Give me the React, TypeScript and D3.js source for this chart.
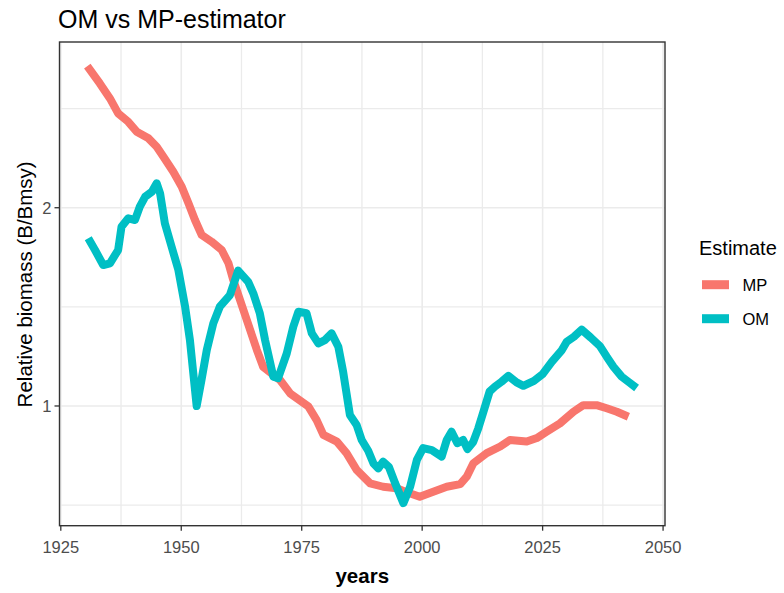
import React from "react";
import * as d3 from "d3";

// Relative biomass (B/Bmsy) by year for the two estimates
const mpYears = [1930.5, 1933.1, 1935.2, 1936.9, 1939.0, 1940.75, 1943.2, 1944.9, 1946.3, 1948.35, 1950.1, 1951.5, 1952.85, 1954.25, 1956.3, 1958.4, 1959.8, 1960.8, 1962.9, 1965.7, 1967.0, 1970.5, 1972.6, 1976.4, 1978.1, 1979.5, 1982.3, 1984.3, 1986.4, 1989.2, 1991.9, 1994.7, 1996.5, 1999.5, 2002.3, 2005.1, 2007.9, 2009.25, 2010.6, 2013.4, 2016.2, 2018.2, 2021.7, 2023.8, 2025.85, 2028.6, 2031.4, 2033.45, 2036.2, 2038.3, 2040.4, 2042.8];
const mpValues = [3.282, 3.089, 2.931, 2.782, 2.701, 2.609, 2.549, 2.475, 2.39, 2.268, 2.152, 2.031, 1.916, 1.818, 1.776, 1.725, 1.647, 1.553, 1.399, 1.216, 1.147, 1.095, 1.045, 0.998, 0.952, 0.904, 0.883, 0.848, 0.8, 0.763, 0.754, 0.75, 0.741, 0.728, 0.741, 0.754, 0.761, 0.781, 0.818, 0.848, 0.868, 0.888, 0.883, 0.894, 0.914, 0.941, 0.98, 1.003, 1.003, 0.992, 0.98, 0.963];

const omYears = [1930.7, 1932.1, 1933.8, 1935.2, 1936.9, 1937.6, 1939.0, 1940.4, 1941.4, 1942.5, 1943.9, 1944.9, 1945.6, 1946.6, 1948.0, 1949.4, 1950.8, 1951.8, 1952.5, 1953.2, 1954.2, 1955.3, 1956.65, 1958.0, 1960.1, 1961.8, 1963.9, 1964.95, 1966.3, 1967.4, 1969.1, 1970.1, 1971.9, 1973.25, 1974.3, 1976.0, 1977.1, 1978.45, 1979.8, 1981.2, 1982.6, 1983.6, 1984.3, 1985.0, 1986.4, 1987.45, 1988.8, 1989.9, 1990.9, 1991.9, 1993.1, 1994.4, 1996.1, 1997.5, 1998.9, 2000.2, 2002.0, 2004.05, 2005.1, 2006.1, 2007.3, 2008.5, 2009.4, 2010.6, 2011.65, 2012.7, 2014.0, 2015.1, 2016.5, 2017.9, 2019.6, 2021.0, 2023.2, 2025.0, 2026.9, 2029.0, 2030.0, 2031.5, 2033.1, 2035.0, 2036.9, 2038.3, 2039.7, 2041.4, 2042.9, 2044.5];
const omValues = [1.797, 1.725, 1.637, 1.647, 1.725, 1.871, 1.927, 1.916, 2.007, 2.078, 2.115, 2.178, 2.104, 1.894, 1.745, 1.609, 1.415, 1.259, 1.121, 1.0, 1.095, 1.216, 1.335, 1.415, 1.474, 1.605, 1.543, 1.483, 1.383, 1.259, 1.108, 1.102, 1.202, 1.319, 1.39, 1.383, 1.289, 1.245, 1.259, 1.289, 1.23, 1.127, 1.045, 0.969, 0.936, 0.888, 0.855, 0.818, 0.804, 0.823, 0.808, 0.763, 0.712, 0.754, 0.828, 0.863, 0.857, 0.838, 0.888, 0.914, 0.878, 0.888, 0.86, 0.882, 0.925, 0.979, 1.052, 1.07, 1.089, 1.111, 1.086, 1.073, 1.092, 1.118, 1.167, 1.216, 1.252, 1.274, 1.306, 1.27, 1.233, 1.188, 1.147, 1.108, 1.087, 1.065];

const seriesNames = ["MP", "OM"];
const seriesColors = ["#F8766D", "#00BFC4"];

const xTicks = [1925, 1950, 1975, 2000, 2025, 2050];
const xMinor = [1937.5, 1962.5, 1987.5, 2012.5, 2037.5];
const yTicks = [1, 2];
const yMinor = [Math.SQRT1_2, Math.SQRT2, 2 * Math.SQRT2];

const FONT = "'Liberation Sans', Arial, Helvetica, sans-serif";

export default function App() {
  const W = 784;
  const H = 593;
  const left = 59.5;
  const right = 665;
  const top = 42;
  const bottom = 525.7;

  const x = d3.scaleLinear().domain([1924.73, 2050.4]).range([left, right]);
  const y = d3.scaleLog().base(2).domain([0.658, 3.57]).range([bottom, top]);

  const line = d3
    .line<[number, number]>()
    .x((d) => x(d[0]))
    .y((d) => y(d[1]));

  const series = [
    mpYears.map((yr, i) => [yr, mpValues[i]] as [number, number]),
    omYears.map((yr, i) => [yr, omValues[i]] as [number, number]),
  ];

  const grid = "#EBEBEB";
  const axisCol = "#333333";
  const tickText = "#4D4D4D";
  const lw = 8;

  return (
    <svg
      width={W}
      height={H}
      style={{ position: "absolute", left: 0, top: 0, background: "#fff" }}
      fontFamily={FONT}
    >
      <rect x={0} y={0} width={W} height={H} fill="#fff" />
      <defs>
        <clipPath id="panel-clip">
          <rect x={left} y={top} width={right - left} height={bottom - top} />
        </clipPath>
      </defs>

      {/* grid */}
      <g>
        {yMinor.map((v) => (
          <line key={"ym" + v} x1={left} x2={right} y1={y(v)} y2={y(v)} stroke={grid} strokeWidth={1.3} />
        ))}
        {xMinor.map((v) => (
          <line key={"xm" + v} x1={x(v)} x2={x(v)} y1={top} y2={bottom} stroke={grid} strokeWidth={1.3} />
        ))}
        {yTicks.map((v) => (
          <line key={"yg" + v} x1={left} x2={right} y1={y(v)} y2={y(v)} stroke={grid} strokeWidth={1.6} />
        ))}
        {xTicks.map((v) => (
          <line key={"xg" + v} x1={x(v)} x2={x(v)} y1={top} y2={bottom} stroke={grid} strokeWidth={1.6} />
        ))}
      </g>

      {/* series lines */}
      <g clipPath="url(#panel-clip)">
        {series.map((pts, i) => (
          <path
            key={seriesNames[i]}
            d={line(pts) || ""}
            fill="none"
            stroke={seriesColors[i]}
            strokeWidth={lw}
            strokeLinejoin="round"
            strokeLinecap="butt"
          />
        ))}
      </g>

      {/* panel border */}
      <rect x={left} y={top} width={right - left} height={bottom - top} fill="none" stroke={axisCol} strokeWidth={1.4} />

      {/* x axis */}
      {xTicks.map((v) => (
        <g key={"xt" + v}>
          <line x1={x(v)} x2={x(v)} y1={bottom} y2={bottom + 5} stroke={axisCol} strokeWidth={1.3} />
          <text x={x(v)} y={553} textAnchor="middle" fontSize={16.5} fill={tickText}>
            {v}
          </text>
        </g>
      ))}

      {/* y axis */}
      {yTicks.map((v) => (
        <g key={"yt" + v}>
          <line x1={left - 5} x2={left} y1={y(v)} y2={y(v)} stroke={axisCol} strokeWidth={1.3} />
          <text x={left - 8} y={y(v)} dy="0.36em" textAnchor="end" fontSize={16.5} fill={tickText}>
            {v}
          </text>
        </g>
      ))}

      {/* titles */}
      <text x={58} y={28} fontSize={25} fill="#000">
        OM vs MP-estimator
      </text>
      <text x={(left + right) / 2} y={583} textAnchor="middle" fontSize={20.5} fontWeight="bold" fill="#000">
        years
      </text>
      <text
        transform={`translate(32, ${(top + bottom) / 2 + 0.5}) rotate(-90)`}
        textAnchor="middle"
        fontSize={20.5}
        fill="#000"
      >
        Relative biomass (B/Bmsy)
      </text>

      {/* legend */}
      <text x={699} y={255} fontSize={20} fill="#000">
        Estimate
      </text>
      {seriesNames.map((name, i) => {
        const cy = 284.7 + i * 34;
        return (
          <g key={"lg" + name}>
            <line x1={702} x2={729} y1={cy} y2={cy} stroke={seriesColors[i]} strokeWidth={9} />
            <text x={742.5} y={cy} dy="0.36em" fontSize={16.5} fill="#000">
              {name}
            </text>
          </g>
        );
      })}
    </svg>
  );
}
